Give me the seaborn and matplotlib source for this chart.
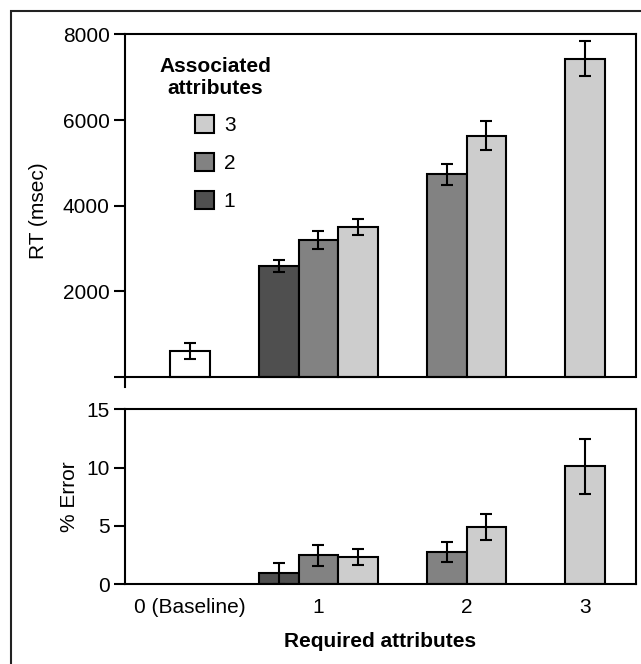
import matplotlib
matplotlib.use('Agg')
import matplotlib.pyplot as plt
from matplotlib.patches import Patch, Rectangle
import pandas as pd
import seaborn as sns


# data
required = ['0 (Baseline)', '1', '1', '1', '2', '2', '3']
associated = ['base', '1', '2', '3', '2', '3', '3']
rt = [600, 2600, 3200, 3500, 4730, 5630, 7430]
rt_sem = [190, 140, 210, 185, 250, 340, 410]
pct_error = [0, 0.95, 2.5, 2.35, 2.75, 4.9, 10.1]
pct_error_sem = [0, 0.9, 0.9, 0.67, 0.88, 1.1, 2.33]

group_labels = ['0 (Baseline)', '1', '2', '3']
legend_levels = ['3', '2', '1']

# layout: where each group sits on the x axis (bar width = 1 unit)
group_pos = [1.65, 4.9, 8.65, 11.65]
colors = {'base': 'white', '1': '#4f4f4f', '2': '#828282', '3': '#cdcdcd'}


def bar_positions():
    ''' centre the bars of each group on its group position '''
    pos = []
    for g, gx in zip(group_labels, group_pos):
        n = required.count(g)
        pos += [gx + i - (n - 1) / 2 for i in range(n)]
    return pos


#%%
sns.set_style('ticks')
plt.rcParams['font.family'] = ['Liberation Sans', 'DejaVu Sans']
plt.rcParams['axes.linewidth'] = 1.5
for key in ['text.color', 'axes.labelcolor', 'xtick.color', 'ytick.color',
            'axes.edgecolor']:
    plt.rcParams[key] = 'black'

df = pd.DataFrame({'required': required, 'associated': associated,
                   'rt': rt, 'rt_sem': rt_sem,
                   'err': pct_error, 'err_sem': pct_error_sem})
df['x'] = bar_positions()

fig = plt.figure(figsize=(6.41, 6.64), dpi=100)
ax1 = fig.add_axes([0.195, 0.4167, 0.797, 0.5316])
ax2 = fig.add_axes([0.195, 0.12, 0.797, 0.2636])

bar_kw = dict(hue='associated', palette=colors, native_scale=True, dodge=False,
              width=1.0, edgecolor='black', linewidth=1.5, legend=False,
              orient='x', saturation=1)
err_kw = dict(fmt='none', ecolor='black', elinewidth=1.5, capsize=4.5,
              capthick=1.5, zorder=5)

# RT panel
sns.barplot(data=df, x='x', y='rt', ax=ax1, **bar_kw)
ax1.errorbar(df['x'], df['rt'], yerr=df['rt_sem'], **err_kw)
ax1.set_xlim(0, 12.94)
ax1.set_ylim(-240, 8000)
ax1.set_yticks([0, 2000, 4000, 6000, 8000])
ax1.set_yticklabels(['', '2000', '4000', '6000', '8000'])
ax1.set_xticks([])
ax1.set_xlabel('')
ax1.set_ylabel('RT (msec)', fontsize=15, labelpad=11)
ax1.spines['bottom'].set_visible(False)
ax1.spines['right'].set_bounds(0, 8000)
ax1.axhline(0, color='black', lw=1.5, zorder=6)
ax1.tick_params(axis='y', labelsize=15, length=8, width=1.5, pad=3)

handles = [Patch(facecolor=colors[k], edgecolor='black', linewidth=1.5)
           for k in legend_levels]
leg = ax1.legend(handles, legend_levels, title='Associated\nattributes',
                 loc='upper left', bbox_to_anchor=(0.03, 0.99), frameon=False,
                 fontsize=15, title_fontsize=15, handlelength=0.95,
                 handleheight=0.95, handletextpad=0.45, labelspacing=0.85)
leg.get_title().set_fontweight('bold')
leg.get_title().set_multialignment('center')

# error panel
sns.barplot(data=df[df['err'] > 0], x='x', y='err', ax=ax2, **bar_kw)
ax2.errorbar(df['x'][1:], df['err'][1:], yerr=df['err_sem'][1:], **err_kw)
ax2.set_xlim(0, 12.94)
ax2.set_ylim(0, 15)
ax2.set_yticks([0, 5, 10, 15])
ax2.set_xticks(group_pos)
ax2.set_xticklabels(group_labels)
ax2.set_ylabel('% Error', fontsize=15, labelpad=5)
ax2.set_xlabel('Required attributes', fontsize=15, fontweight='bold', labelpad=11)
ax2.tick_params(axis='y', labelsize=15, length=8, width=1.5, pad=3)
ax2.tick_params(axis='x', labelsize=15, length=0, pad=10)

# outer frame, cut off at right and bottom
fig.add_artist(Rectangle((11 / 641, -1), 2, 1 + 1 - 11 / 664, fill=False,
                         edgecolor='#222222', lw=1.5,
                         transform=fig.transFigure, clip_on=False))

fig.savefig('out.png', dpi=100)
